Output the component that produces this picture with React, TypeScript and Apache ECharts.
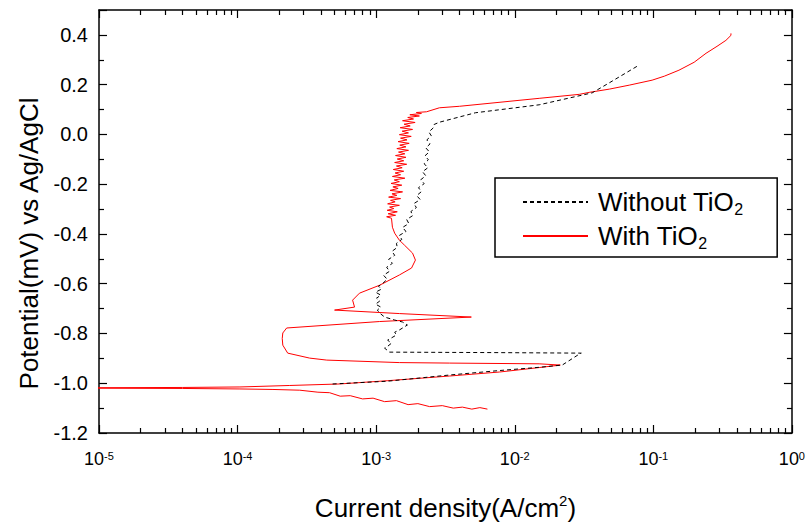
import React, { useEffect, useRef } from "react";
import * as echarts from "echarts";

// Current density (A/cm2) vs potential (V vs Ag/AgCl)
const withoutTiO2: [number, number][] = [
  [4.85e-4, -1.003], [1.2e-3, -0.992], [3.38e-3, -0.967], [7.74e-3, -0.949],
  [1.5e-2, -0.936], [2.2e-2, -0.927], [2.92e-2, -0.883], [3.02e-2, -0.879],
  [7.74e-3, -0.877], [1.25e-3, -0.875], [1.15e-3, -0.859], [1.19e-3, -0.855],
  [1.29e-3, -0.839], [1.21e-3, -0.827], [1.4e-3, -0.806], [1.36e-3, -0.795],
  [1.47e-3, -0.786], [1.68e-3, -0.766], [1.55e-3, -0.754], [1.36e-3, -0.746],
  [1.15e-3, -0.734], [1.06e-3, -0.718], [1.02e-3, -0.706], [1.08e-3, -0.694],
  [9.9e-4, -0.682], [1.06e-3, -0.67], [1.007e-3, -0.658], [1.08e-3, -0.646],
  [9.9e-4, -0.634], [1.09e-3, -0.622], [1.04e-3, -0.61], [1.12e-3, -0.598],
  [1.2e-3, -0.582], [1.13e-3, -0.566], [1.25e-3, -0.55], [1.19e-3, -0.534],
  [1.31e-3, -0.518], [1.23e-3, -0.502], [1.36e-3, -0.486], [1.3e-3, -0.47],
  [1.42e-3, -0.454], [1.4e-3, -0.438], [1.53e-3, -0.422], [1.47e-3, -0.406],
  [1.64e-3, -0.39], [1.55e-3, -0.374], [1.72e-3, -0.358], [1.66e-3, -0.342],
  [1.84e-3, -0.326], [1.78e-3, -0.31], [1.95e-3, -0.294], [1.87e-3, -0.278],
  [2.08e-3, -0.262], [1.96e-3, -0.246], [2.12e-3, -0.23], [2.02e-3, -0.214],
  [2.22e-3, -0.198], [2.1e-3, -0.182], [2.28e-3, -0.166], [2.16e-3, -0.15],
  [2.36e-3, -0.134], [2.22e-3, -0.118], [2.38e-3, -0.102], [2.25e-3, -0.086],
  [2.42e-3, -0.07], [2.28e-3, -0.054], [2.45e-3, -0.038], [2.32e-3, -0.022],
  [2.5e-3, -0.006], [2.4e-3, 0.01], [2.58e-3, 0.026], [2.62e-3, 0.04],
  [2.86e-3, 0.049], [5.2e-3, 0.087], [1.5e-2, 0.119], [3.62e-2, 0.167],
  [5.04e-2, 0.214], [7.64e-2, 0.274],
];

const withTiO2: [number, number][] = [
  [6.35e-3, -1.104], [5.6e-3, -1.098], [4.9e-3, -1.104], [4.19e-3, -1.096],
  [3.6e-3, -1.1], [3.0e-3, -1.09], [2.43e-3, -1.094], [2.0e-3, -1.082],
  [1.7e-3, -1.086], [1.4e-3, -1.07], [1.15e-3, -1.074], [9.5e-4, -1.06],
  [7.98e-4, -1.063], [6.5e-4, -1.05], [5.5e-4, -1.052], [4.61e-4, -1.038],
  [3.8e-4, -1.036], [2.81e-4, -1.028], [1.8e-4, -1.025], [1.04e-4, -1.023],
  [4.0e-5, -1.021], [1.0e-5, -1.02], [4.0e-6, -1.019], [1.0e-5, -1.018],
  [4.0e-5, -1.017], [1.04e-4, -1.015], [2.38e-4, -1.009], [5.44e-4, -1.003],
  [1.2e-3, -0.99], [3.38e-3, -0.971], [7.74e-3, -0.955], [1.5e-2, -0.937],
  [2.13e-2, -0.927], [1.5e-2, -0.922], [3.38e-3, -0.919], [1.47e-3, -0.917],
  [4.4e-4, -0.907], [3.31e-4, -0.899], [2.3e-4, -0.879], [2.12e-4, -0.847],
  [2.1e-4, -0.82], [2.12e-4, -0.798], [2.26e-4, -0.778], [1.06e-3, -0.752],
  [4.86e-3, -0.734], [1.47e-3, -0.72], [5.01e-4, -0.706], [6.98e-4, -0.694],
  [6.76e-4, -0.666], [7.58e-4, -0.638], [1.06e-3, -0.606], [1.47e-3, -0.565],
  [1.8e-3, -0.537], [1.92e-3, -0.505], [1.83e-3, -0.477], [1.6e-3, -0.445],
  [1.47e-3, -0.425], [1.36e-3, -0.397], [1.31e-3, -0.373],
  [1.29e-3, -0.337], [1.19e-3, -0.331], [1.38e-3, -0.325], [1.22e-3, -0.319],
  [1.42e-3, -0.311], [1.2e-3, -0.305], [1.34e-3, -0.298], [1.25e-3, -0.292],
  [1.47e-3, -0.285], [1.21e-3, -0.279], [1.37e-3, -0.271], [1.27e-3, -0.265],
  [1.5e-3, -0.258], [1.23e-3, -0.252], [1.41e-3, -0.245], [1.3e-3, -0.239],
  [1.55e-3, -0.231], [1.26e-3, -0.225], [1.44e-3, -0.217], [1.32e-3, -0.211],
  [1.53e-3, -0.204], [1.28e-3, -0.197], [1.47e-3, -0.19], [1.35e-3, -0.183],
  [1.61e-3, -0.176], [1.31e-3, -0.169], [1.5e-3, -0.162], [1.37e-3, -0.155],
  [1.58e-3, -0.148], [1.33e-3, -0.141], [1.54e-3, -0.134], [1.4e-3, -0.127],
  [1.66e-3, -0.12], [1.36e-3, -0.113], [1.58e-3, -0.106], [1.42e-3, -0.099],
  [1.64e-3, -0.092], [1.38e-3, -0.085], [1.61e-3, -0.078], [1.45e-3, -0.071],
  [1.71e-3, -0.064], [1.41e-3, -0.057], [1.64e-3, -0.05], [1.48e-3, -0.043],
  [1.73e-3, -0.036], [1.44e-3, -0.029], [1.67e-3, -0.022], [1.5e-3, -0.015],
  [1.79e-3, -0.008], [1.47e-3, -0.001], [1.71e-3, 0.006], [1.54e-3, 0.013],
  [1.83e-3, 0.02], [1.49e-3, 0.027], [1.76e-3, 0.034], [1.59e-3, 0.041],
  [1.91e-3, 0.048], [1.55e-3, 0.055], [1.86e-3, 0.062], [1.69e-3, 0.068],
  [2.05e-3, 0.074], [1.75e-3, 0.079], [2.12e-3, 0.084], [1.95e-3, 0.088],
  [2.31e-3, 0.091], [2.86e-3, 0.107], [3.99e-3, 0.113], [1.5e-2, 0.145],
  [2.92e-2, 0.161], [3.44e-2, 0.169], [4.81e-2, 0.182], [6.7e-2, 0.198],
  [9.8e-2, 0.218], [0.12, 0.234], [0.153, 0.258], [0.197, 0.29],
  [0.24, 0.326], [0.288, 0.354], [0.334, 0.378], [0.363, 0.398],
  [0.363, 0.406],
];

const seriesNames = ["Without TiO2", "With TiO2"];
const decades = [1e-5, 1e-4, 1e-3, 1e-2, 1e-1];
const minorMultipliers = [2, 3, 4, 5, 6, 7, 8, 9];
const yTickLabels = [-1.2, -1.0, -0.8, -0.6, -0.4, -0.2, 0.0, 0.2, 0.4];

const FONT = "'Liberation Sans', Arial, sans-serif";

export default function App() {
  const ref = useRef<HTMLDivElement>(null);
  useEffect(() => {
    if (!ref.current) return;
    const chart = echarts.init(ref.current, null, { renderer: "svg" });
    const minorVals: number[] = [];
    decades.forEach((d) => minorMultipliers.forEach((m) => minorVals.push(d * m)));

    const lineStyle = { color: "#000", width: 1.5 };
    const tickStyle = { color: "#000", width: 1.2 };
    const baseX = {
      type: "log" as const,
      logBase: 10,
      min: 1e-5,
      max: 1,
      splitLine: { show: false },
      minorTick: { show: false },
    };
    const baseY = {
      type: "value" as const,
      min: -1.2,
      max: 0.5,
      interval: 0.2,
      splitLine: { show: false },
    };

    chart.setOption({
      animation: false,
      backgroundColor: "#fff",
      textStyle: { fontFamily: FONT },
      grid: { left: 99, right: 15, top: 10, bottom: 97 },
      legend: {
        data: seriesNames,
        orient: "vertical",
        left: 495,
        top: 178,
        width: 280,
        padding: [9, 34, 6, 27],
        itemGap: 4,
        itemWidth: 65,
        itemHeight: 14,
        borderColor: "#000",
        borderWidth: 1.5,
        backgroundColor: "#fff",
        itemStyle: { opacity: 0 },
        formatter: (name: string) => name.replace("TiO2", "TiO{sub|2}"),
        textStyle: {
          fontFamily: FONT,
          fontSize: 26,
          color: "#000",
          lineHeight: 30,
          padding: [0, 0, 0, 5],
          rich: {
            sub: { fontSize: 16, verticalAlign: "bottom", lineHeight: 14, color: "#000", fontFamily: FONT },
          },
        },
      },
      xAxis: [
        {
          ...baseX,
          position: "bottom",
          axisLine: { show: true, onZero: false, lineStyle },
          axisTick: { show: true, inside: true, length: 8, lineStyle: tickStyle },
          axisLabel: {
            show: true,
            margin: 17,
            color: "#000",
            fontFamily: FONT,
            fontSize: 18,
            formatter: (v: number) => "10{sup|" + Math.round(Math.log10(v)) + "}",
            rich: {
              sup: { fontSize: 11, verticalAlign: "top", lineHeight: 11, color: "#000", fontFamily: FONT },
            },
          },
          name: "Current density(A/cm{sup|2})",
          nameLocation: "middle",
          nameGap: 60,
          nameTextStyle: {
            fontFamily: FONT,
            fontSize: 26,
            color: "#000",
            lineHeight: 30,
            rich: {
              sup: { fontSize: 15, verticalAlign: "top", lineHeight: 15, color: "#000", fontFamily: FONT },
            },
          },
        },
        {
          ...baseX,
          position: "bottom",
          axisLine: { show: false, onZero: false },
          axisLabel: { show: false },
          axisTick: { show: true, inside: true, length: 5, customValues: minorVals, lineStyle: tickStyle },
        },
        {
          ...baseX,
          position: "top",
          axisLine: { show: true, onZero: false, lineStyle },
          axisLabel: { show: false },
          axisTick: { show: true, inside: true, length: 8, lineStyle: tickStyle },
        },
        {
          ...baseX,
          position: "top",
          axisLine: { show: false, onZero: false },
          axisLabel: { show: false },
          axisTick: { show: true, inside: true, length: 5, customValues: minorVals, lineStyle: tickStyle },
        },
      ],
      yAxis: [
        {
          ...baseY,
          position: "left",
          axisLine: { show: true, onZero: false, lineStyle },
          axisTick: { show: true, inside: true, length: 8, lineStyle: tickStyle },
          minorTick: { show: true, splitNumber: 2, length: 5, lineStyle: tickStyle },
          axisLabel: {
            show: true,
            margin: 11,
            color: "#000",
            fontFamily: FONT,
            fontSize: 20,
            showMaxLabel: false,
            formatter: (v: number) => {
              const hit = yTickLabels.find((t) => Math.abs(t - v) < 1e-6);
              return hit === undefined ? "" : hit.toFixed(1);
            },
          },
          name: "Potential(mV) vs Ag/AgCl",
          nameLocation: "middle",
          nameGap: 57,
          nameRotate: 90,
          nameTextStyle: { fontFamily: FONT, fontSize: 26, color: "#000", padding: [0, 44, 0, 0] },
        },
        {
          ...baseY,
          position: "right",
          axisLine: { show: true, onZero: false, lineStyle },
          axisLabel: { show: false },
          axisTick: { show: true, inside: true, length: 8, lineStyle: tickStyle },
          minorTick: { show: true, splitNumber: 2, length: 5, lineStyle: tickStyle },
        },
      ],
      series: [
        {
          name: seriesNames[0],
          type: "line",
          xAxisIndex: 0,
          yAxisIndex: 0,
          data: withoutTiO2,
          showSymbol: false,
          symbol: "none",
          clip: true,
          lineStyle: { color: "#000", width: 1, type: [4, 3] },
          itemStyle: { color: "#000" },
          z: 3,
        },
        {
          name: seriesNames[1],
          type: "line",
          xAxisIndex: 0,
          yAxisIndex: 0,
          data: withTiO2,
          showSymbol: false,
          symbol: "none",
          clip: true,
          lineStyle: { color: "#ff0000", width: 1 },
          itemStyle: { color: "#ff0000" },
          z: 2,
        },
      ],
    });
    return () => chart.dispose();
  }, []);
  return <div ref={ref} style={{ width: 808, height: 530, position: "absolute", left: 0, top: 0 }} />;
}
